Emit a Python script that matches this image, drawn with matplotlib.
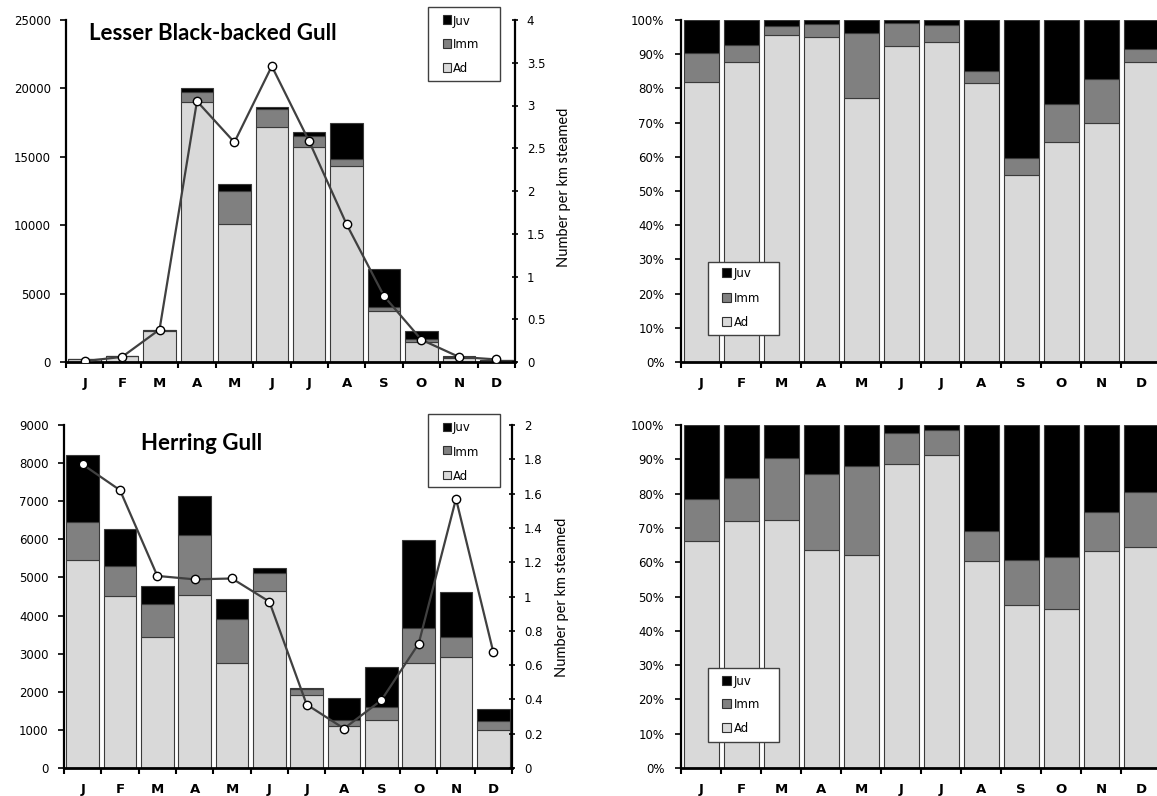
import matplotlib
matplotlib.use('Agg')
import matplotlib.pyplot as plt
import numpy as np
from matplotlib.patches import Rectangle

# ---------------- data ----------------
months = ['J', 'F', 'M', 'A', 'M', 'J', 'J', 'A', 'S', 'O', 'N', 'D']

# Lesser Black-backed Gull (numbers counted)
lbbg_ad = [205, 404, 2258, 18980, 10060, 17210, 15690, 14300, 3715, 1453, 322, 158]
lbbg_imm = [21, 23, 61, 780, 2460, 1270, 840, 575, 330, 253, 58, 7]
lbbg_juv = [24, 33, 41, 240, 510, 170, 250, 2625, 2745, 554, 80, 15]
lbbg_rate = [0.01, 0.06, 0.38, 3.05, 2.57, 3.46, 2.58, 1.61, 0.77, 0.26, 0.06, 0.03]

# Herring Gull (numbers counted)
hg_ad = [5455, 4519, 3444, 4537, 2762, 4641, 1914, 1107, 1258, 2768, 2912, 999]
hg_imm = [1005, 787, 865, 1582, 1145, 481, 155, 162, 345, 903, 520, 245]
hg_juv = [1765, 961, 455, 1031, 533, 123, 29, 567, 1046, 2308, 1175, 303]
hg_rate = [1.77, 1.62, 1.12, 1.10, 1.105, 0.97, 0.37, 0.23, 0.395, 0.725, 1.57, 0.675]

age_labels = ['Juv', 'Imm', 'Ad']

# ---------------- style ----------------
W, H = 1157, 796
AD_C, IMM_C, JUV_C = '#d9d9d9', '#808080', '#000000'
EDGE = '#3a3a3a'
TICKFONT = 'DejaVu Sans'
CAL = 'Lato'

fig = plt.figure(figsize=(W / 100, H / 100), dpi=100)
fig.patch.set_facecolor('white')


def rect(x0, y0, x1, y1):
    return [x0 / W, 1 - y1 / H, (x1 - x0) / W, (y1 - y0) / H]


def fx(x):
    return x / W


def fy(y):
    return 1 - y / H


def setup_x(ax):
    ax.set_xlim(-0.5, 11.5)
    ax.set_xticks(np.arange(-0.5, 12, 1))
    ax.set_xticklabels([])
    ax.set_xticks(np.arange(12), months, minor=True, fontweight='bold',
                  fontsize=9.5, family=TICKFONT)
    ax.tick_params(axis='x', which='major', direction='out', length=4,
                   width=1.5, color='black')
    ax.tick_params(axis='x', which='minor', length=0, pad=11)


def stacked(ax, ad, imm, juv, bw):
    x = np.arange(12)
    ad = np.asarray(ad, float)
    imm = np.asarray(imm, float)
    juv = np.asarray(juv, float)
    ax.bar(x, ad, width=bw, color=AD_C, edgecolor=EDGE, linewidth=0.8, zorder=2)
    ax.bar(x, imm, bottom=ad, width=bw, color=IMM_C, edgecolor=EDGE,
           linewidth=0.8, zorder=2)
    ax.bar(x, juv, bottom=ad + imm, width=bw, color=JUV_C, edgecolor=EDGE,
           linewidth=0.8, zorder=2)


def legend(box, hx, tx, ys, hs):
    x0, y0, x1, y1 = box
    fig.add_artist(Rectangle((fx(x0), fy(y1)), (x1 - x0) / W, (y1 - y0) / H,
                             transform=fig.transFigure, facecolor='white',
                             edgecolor='#404040', linewidth=1.0, zorder=10))
    for lab, c, yy in zip(age_labels, [JUV_C, IMM_C, AD_C], ys):
        fig.add_artist(Rectangle((fx(hx), fy(yy - 1.5 + hs / 2)), hs / W, hs / H,
                                 transform=fig.transFigure, facecolor=c,
                                 edgecolor='#303030', linewidth=0.8, zorder=11))
        fig.text(fx(tx), fy(yy), lab, ha='left', va='center', family=TICKFONT,
                 fontsize=8.5, zorder=12)


def count_panel(box, ad, imm, juv, rate, ymax, ystep, rmax, rstep,
                title, title_xy, ylab_xy, leg_box, leg_ys):
    ax = fig.add_axes(rect(*box))
    stacked(ax, ad, imm, juv, 0.87)
    setup_x(ax)
    ax.set_ylim(0, ymax)
    ax.set_yticks(np.arange(0, ymax + 1, ystep))
    ax.tick_params(axis='y', direction='out', length=4, width=1.2, pad=7,
                   labelsize=8.5)
    for s in ['top', 'right']:
        ax.spines[s].set_visible(False)
    ax.spines['left'].set_linewidth(1.6)
    ax.spines['bottom'].set_linewidth(2.0)
    ax.set_facecolor('none')

    ax2 = ax.twinx()
    ax2.plot(np.arange(12), rate, color='#404040', lw=1.6, marker='o', ms=6,
             mfc='white', mec='black', mew=1.0, zorder=5)
    ax2.set_ylim(0, rmax)
    ticks = np.round(np.arange(0, rmax + 1e-9, rstep), 2)
    ax2.set_yticks(ticks, ['%g' % t for t in ticks])
    ax2.tick_params(axis='y', direction='inout', length=5, width=1.2, pad=6,
                    labelsize=8.5)
    for s in ['top', 'left', 'bottom']:
        ax2.spines[s].set_visible(False)
    ax2.spines['right'].set_linewidth(1.6)

    fig.text(fx(title_xy[0]), fy(title_xy[1]), title, ha='left', va='center',
             family=CAL, fontweight='bold', fontsize=16)
    fig.text(fx(ylab_xy[0]), fy(ylab_xy[1]), 'Number per km steamed',
             rotation=90, ha='center', va='center', family=CAL, fontsize=10.5)
    legend(leg_box, 443, 453, leg_ys, 8)
    return ax


def pct_panel(box, ad, imm, juv, leg_box, leg_ys):
    ax = fig.add_axes(rect(*box))
    ad = np.asarray(ad, float)
    imm = np.asarray(imm, float)
    juv = np.asarray(juv, float)
    tot = ad + imm + juv
    stacked(ax, ad / tot * 100, imm / tot * 100, juv / tot * 100, 0.875)
    setup_x(ax)
    ax.set_ylim(0, 100)
    ax.set_yticks(np.arange(0, 101, 10), ['%d%%' % v for v in range(0, 101, 10)])
    ax.tick_params(axis='y', direction='out', length=4, width=1.2, pad=8,
                   labelsize=8.5)
    for s in ['top', 'right']:
        ax.spines[s].set_visible(False)
    ax.spines['left'].set_linewidth(1.6)
    ax.spines['bottom'].set_linewidth(2.0)
    legend(leg_box, 722, 734, leg_ys, 9)
    return ax


count_panel((66, 20, 515, 362), lbbg_ad, lbbg_imm, lbbg_juv, lbbg_rate,
            25000, 5000, 4, 0.5, 'Lesser Black-backed Gull', (89, 33),
            (564, 187), (428, 7, 500, 81), (21, 45, 69))
count_panel((64, 425, 512, 768), hg_ad, hg_imm, hg_juv, hg_rate,
            9000, 1000, 2, 0.2, 'Herring Gull', (141, 444),
            (562, 597), (428, 414, 500, 487), (428, 452, 476))
pct_panel((681, 20, 1161, 362), lbbg_ad, lbbg_imm, lbbg_juv,
          (708, 262, 779, 335), (274, 299, 323))
pct_panel((681, 425, 1161, 768), hg_ad, hg_imm, hg_juv,
          (708, 668, 779, 742), (682, 705, 729))

fig.savefig('out.png', dpi=100, facecolor='white')
